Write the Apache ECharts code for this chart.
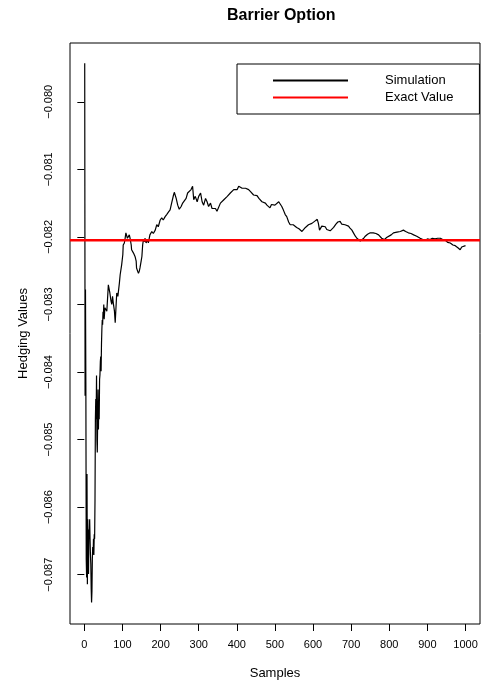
<!DOCTYPE html>
<html>
<head>
<meta charset="utf-8">
<script src="https://cdn.jsdelivr.net/npm/echarts@6/dist/echarts.min.js"></script>
<style>
html, body { margin: 0; padding: 0; background: #fff; }
#main { width: 487px; height: 685px; }
</style>
</head>
<body>
<div id="main"></div>
<script>
// sample index and simulated hedging value
var samples = [
    1, 2, 3, 4, 5, 6, 7, 8, 9, 10,
    11, 12, 13, 14, 15, 16, 17, 18, 19, 20,
    21, 22, 23, 24, 25, 26, 27, 28, 29, 30,
    31, 32, 33, 34, 35, 36, 37, 38, 39, 40,
    41, 42, 43, 44, 45, 46, 47, 48, 49, 50,
    51, 52,
    54, 59, 63, 67, 70, 72, 74, 76, 79, 81,
    83, 85, 88, 89, 92, 94, 96, 98, 101, 102,
    105, 107, 109, 111, 113, 116, 118, 120, 123, 124,
    129, 133, 136, 137, 140, 142, 144, 146, 149, 151,
    153, 155, 158, 159, 162, 164, 166, 168, 172, 177,
    181, 186, 190, 194, 199, 203, 207, 212, 216, 221,
    225, 229, 234, 236, 241, 245, 249, 254, 258, 263,
    267, 271, 276, 280, 284, 287, 291, 296, 300, 305,
    309, 313, 318, 322, 326, 331, 335, 340, 344, 348,
    353, 357, 361, 366, 370, 375, 379, 383, 388, 392,
    396, 401, 405, 409, 414, 418, 423, 427, 431, 436,
    440, 444, 449, 453, 458, 462, 466, 471, 475, 479,
    484, 487, 491, 496, 500, 505, 510, 514, 518, 522,
    527, 531, 536, 540, 544, 548, 552, 557, 563, 567,
    571, 575, 580, 584, 588, 592, 597, 604, 608, 611,
    614, 617, 620, 623, 628, 632, 636, 641, 645, 649,
    654, 660, 665, 668, 671, 675, 680, 684, 689, 693,
    697, 702, 706, 711, 715, 719, 724, 728, 733, 737,
    743, 750, 758, 765, 772, 780, 787, 793, 798, 805,
    811, 820, 829, 837, 843, 850, 857, 864, 872, 881,
    888, 894, 900, 904, 907, 913, 917, 920, 924, 927,
    931, 934, 940, 947, 953, 960, 967, 973, 980, 986,
    990, 995, 1000
];
var hedging = [
    -0.07943, -0.08435, -0.08278, -0.08416, -0.08677, -0.08704, -0.08551, -0.08714, -0.08618, -0.08655,
    -0.08699, -0.08633, -0.08647, -0.08618, -0.08647, -0.08670, -0.08684, -0.08721, -0.08741, -0.08724,
    -0.08677, -0.08659, -0.08670, -0.08647, -0.08671, -0.08640, -0.08647, -0.08589, -0.08470, -0.08440,
    -0.08470, -0.08405, -0.08500, -0.08519, -0.08470, -0.08426, -0.08485, -0.08441, -0.08470, -0.08411,
    -0.08404, -0.08385, -0.08377, -0.08399, -0.08359, -0.08337, -0.08323, -0.08330, -0.08311, -0.08320,
    -0.08300, -0.08322,
    -0.08305, -0.08310, -0.08271, -0.08283, -0.08295, -0.08300, -0.08288, -0.08298, -0.08310, -0.08327,
    -0.08305, -0.08283, -0.08288, -0.08286, -0.08268, -0.08256, -0.08254, -0.08241, -0.08226, -0.08212,
    -0.08209, -0.08202, -0.08194, -0.08192, -0.08202, -0.08204, -0.08197, -0.08202, -0.08212, -0.08219,
    -0.08224, -0.08229, -0.08236, -0.08246, -0.08251, -0.08254, -0.08251, -0.08246, -0.08236, -0.08229,
    -0.08212, -0.08204, -0.08207, -0.08202, -0.08209, -0.08207, -0.08204, -0.08209, -0.08197, -0.08192,
    -0.08195, -0.08190, -0.08182, -0.08185, -0.08175, -0.08172, -0.08175, -0.08170, -0.08167, -0.08163,
    -0.08160, -0.08150, -0.08138, -0.08134, -0.08143, -0.08153, -0.08159, -0.08155, -0.08150, -0.08148,
    -0.08143, -0.08135, -0.08133, -0.08130, -0.08125, -0.08145, -0.08140, -0.08148, -0.08140, -0.08135,
    -0.08148, -0.08153, -0.08143, -0.08148, -0.08155, -0.08150, -0.08158, -0.08160, -0.08158, -0.08162,
    -0.08160, -0.08150, -0.08148, -0.08145, -0.08143, -0.08140, -0.08138, -0.08135, -0.08133, -0.08130,
    -0.08128, -0.08130, -0.08125, -0.08123, -0.08128, -0.08126, -0.08128, -0.08126, -0.08130, -0.08133,
    -0.08135, -0.08138, -0.08140, -0.08139, -0.08143, -0.08145, -0.08148, -0.08148, -0.08150, -0.08153,
    -0.08155, -0.08157, -0.08152, -0.08150, -0.08153, -0.08152, -0.08148, -0.08150, -0.08155, -0.08160,
    -0.08167, -0.08170, -0.08178, -0.08182, -0.08180, -0.08182, -0.08181, -0.08186, -0.08188, -0.08190,
    -0.08192, -0.08192, -0.08186, -0.08185, -0.08182, -0.08182, -0.08180, -0.08177, -0.08176, -0.08174,
    -0.08180, -0.08190, -0.08189, -0.08184, -0.08185, -0.08185, -0.08189, -0.08190, -0.08191, -0.08190,
    -0.08186, -0.08181, -0.08178, -0.08177, -0.08177, -0.08181, -0.08181, -0.08182, -0.08182, -0.08184,
    -0.08187, -0.08190, -0.08194, -0.08199, -0.08202, -0.08202, -0.08206, -0.08207, -0.08202, -0.08199,
    -0.08196, -0.08194, -0.08194, -0.08195, -0.08197, -0.08202, -0.08204, -0.08201, -0.08199, -0.08197,
    -0.08194, -0.08193, -0.08192, -0.08190, -0.08192, -0.08194, -0.08195, -0.08197, -0.08199, -0.08202,
    -0.08204, -0.08205, -0.08203, -0.08205, -0.08204, -0.08202, -0.08204, -0.08203, -0.08201, -0.08202,
    -0.08204, -0.08202, -0.08204, -0.08205, -0.08208, -0.08209, -0.08212, -0.08213, -0.08216, -0.08219,
    -0.08215, -0.08214, -0.08213
];
var exactValue = -0.08205;

var xTicks = [0, 100, 200, 300, 400, 500, 600, 700, 800, 900, 1000];
var yTicks = [-0.087, -0.086, -0.085, -0.084, -0.083, -0.082, -0.081, -0.080];

// axis limits (R pads the data range a little)
var xMin = -37.6, xMax = 1038;
var yMin = -0.08773, yMax = -0.07913;

var simData = samples.map(function (s, i) { return [s, hedging[i]]; });
var exactData = [[xMin, exactValue], [xMax, exactValue]];

var font = 'Liberation Sans, Arial, Helvetica, sans-serif';

var myChart = echarts.init(document.getElementById('main'));

option = {
    animation: false,
    title: {
        text: 'Barrier Option',
        left: 222,
        top: 3,
        textStyle: { fontFamily: font, fontSize: 16, fontWeight: 'bold', color: '#000' }
    },
    legend: {
        orient: 'vertical',
        left: 237,
        top: 64,
        padding: [10, 26, 10, 36],
        itemGap: 4,
        itemWidth: 75,
        itemHeight: 2,
        borderColor: '#000',
        borderWidth: 1,
        borderRadius: 0,
        textStyle: { fontFamily: font, fontSize: 13, color: '#000', padding: [0, 0, 0, 32] },
        data: [
            { name: 'Simulation', icon: 'rect' },
            { name: 'Exact Value', icon: 'rect' }
        ]
    },
    grid: {
        left: 70,
        right: 7,
        top: 43,
        bottom: 60,
        show: true,
        borderColor: '#000',
        borderWidth: 1
    },
    xAxis: {
        type: 'value',
        min: xMin,
        max: xMax,
        name: 'Samples',
        nameLocation: 'middle',
        nameGap: 43,
        nameTextStyle: { fontFamily: font, fontSize: 13, color: '#000' },
        axisLine: { show: false },
        axisTick: { show: true, length: 7, customValues: xTicks, lineStyle: { color: '#000' } },
        axisLabel: {
            customValues: xTicks,
            margin: 15,
            fontFamily: font,
            fontSize: 11,
            color: '#000',
            formatter: function (v) { return String(v); }
        },
        splitLine: { show: false }
    },
    yAxis: {
        type: 'value',
        min: yMin,
        max: yMax,
        name: 'Hedging Values',
        nameLocation: 'middle',
        nameRotate: 90,
        nameGap: 40,
        nameTextStyle: { fontFamily: font, fontSize: 13, color: '#000' },
        axisLine: { show: false },
        axisTick: { show: true, length: 7, customValues: yTicks, lineStyle: { color: '#000' } },
        axisLabel: {
            customValues: yTicks,
            rotate: 90,
            margin: 16,
            fontFamily: font,
            fontSize: 11,
            color: '#000',
            formatter: function (v) { return '\u2212' + Math.abs(v).toFixed(3); }
        },
        splitLine: { show: false }
    },
    series: [
        {
            name: 'Simulation',
            type: 'line',
            data: simData,
            symbol: 'none',
            color: '#000',
            lineStyle: { color: '#000', width: 1.2 }
        },
        {
            name: 'Exact Value',
            type: 'line',
            data: exactData,
            symbol: 'none',
            color: '#ff0000',
            lineStyle: { color: '#ff0000', width: 2.5 }
        }
    ]
};

myChart.setOption(option);
</script>
</body>
</html>
